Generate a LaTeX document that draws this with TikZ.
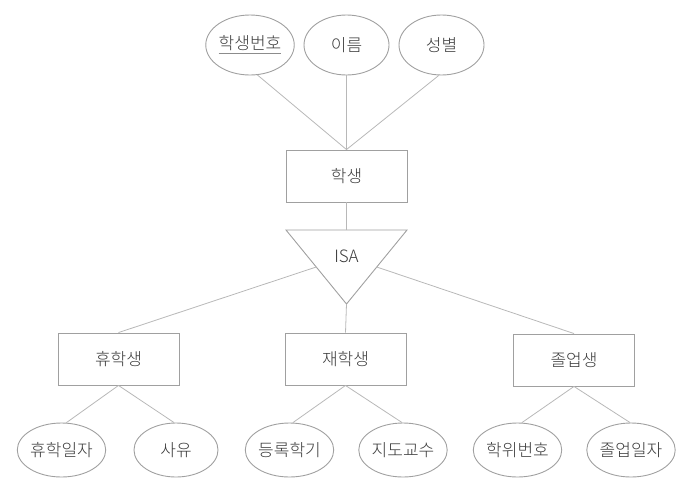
\documentclass[tikz,border=0pt]{standalone}
\usepackage{fontspec}
\setmainfont{Noto Sans CJK KR Light}
\usetikzlibrary{shapes.geometric,calc}
\definecolor{shapecol}{HTML}{A0A0A0}
\definecolor{linecol}{HTML}{B8B8B8}
\definecolor{textcol}{HTML}{3A3A3A}
\definecolor{ulcol}{HTML}{8C8C8C}
\newcommand{\ulgray}[1]{{\setbox0\hbox{#1}\rlap{\color{ulcol}\rule[-4.5pt]{\wd0}{1pt}}\box0}}
\tikzset{
  txtfont/.style={text=textcol, font=\fontsize{17}{19}\selectfont},
  ent/.style={draw=shapecol, line width=0.9pt, minimum width=121pt, minimum height=52pt, inner sep=0pt, txtfont},
  attrtop/.style={ellipse, draw=shapecol, line width=0.9pt, minimum width=85pt, minimum height=60pt, inner sep=0pt, txtfont},
  attrbot/.style={ellipse, draw=shapecol, line width=0.9pt, minimum width=84pt, minimum height=54pt, inner sep=0pt, txtfont},
  conn/.style={draw=linecol, line width=0.8pt},
  isatxt/.style={inner sep=0pt, txtfont}
}
\begin{document}
\begin{tikzpicture}[x=1pt,y=-1pt]
\useasboundingbox (0,0) rectangle (695,482);
% top attributes
\node[attrtop] (a1) at (250,45) {\ulgray{학생번호}};
\node[attrtop] (a2) at (346.5,45) {이름};
\node[attrtop] (a3) at (441.5,45) {성별};
% student entity
\node[ent] (st) at (346.5,176) {학생};
% ISA triangle
\coordinate (tl) at (286,230);
\coordinate (tr) at (407,230);
\coordinate (ap) at (346.5,304);
\draw[draw=shapecol, line width=0.9pt] (tl) -- (tr) -- (ap) -- cycle;
\coordinate (tt) at ($(tl)!0.5!(tr)$);
\coordinate (isaL) at ($(tl)!0.5!(ap)$);
\coordinate (isaR) at ($(tr)!0.5!(ap)$);
\node[isatxt] (isa) at (346.5,256) {ISA};
% subtypes
\node[ent] (e1) at (118.5,359) {휴학생};
\node[ent] (e2) at (345.5,359) {재학생};
\node[ent] (e3) at (574,360) {졸업생};
% bottom attributes
\node[attrbot] (b1) at (61.5,450) {휴학일자};
\node[attrbot] (b2) at (176,450) {사유};
\node[attrbot] (b3) at (289.5,450) {등록학기};
\node[attrbot] (b4) at (403,450) {지도교수};
\node[attrbot] (b5) at (517.5,450) {학위번호};
\node[attrbot] (b6) at (631,450) {졸업일자};
% connectors
\draw[conn] (a1.-76) -- (st.north);
\draw[conn] (a2.south) -- (st.north);
\draw[conn] (a3.-95) -- (st.north);
\draw[conn] (st.south) -- (tt);
\draw[conn] (isaL) -- (e1.north);
\draw[conn] (ap) -- (e2.north);
\draw[conn] (isaR) -- (e3.north);
\draw[conn] (e1.south) -- (b1.80);
\draw[conn] (e1.south) -- (b2.94);
\draw[conn] (e2.south) -- (b3.83);
\draw[conn] (e2.south) -- (b4.92);
\draw[conn] (e3.south) -- (b5.81);
\draw[conn] (e3.south) -- (b6.92);
\end{tikzpicture}
\end{document}
